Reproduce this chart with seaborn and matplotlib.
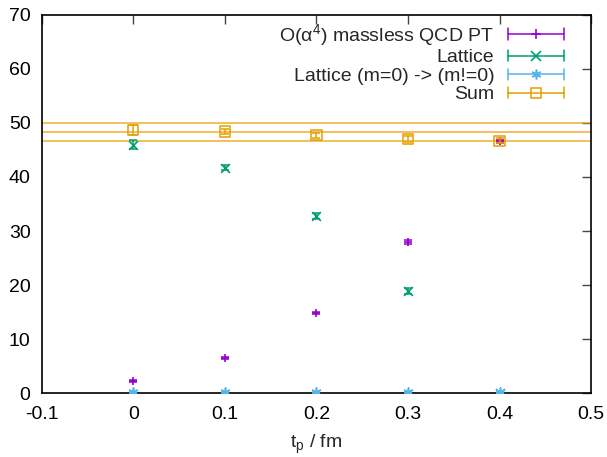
import numpy as np
import pandas as pd
import matplotlib
matplotlib.use("Agg")
import matplotlib.pyplot as plt
import seaborn as sns
from matplotlib.legend_handler import HandlerBase
from matplotlib.lines import Line2D

# ---- data ----
tp = [0.0, 0.1, 0.2, 0.3, 0.4]
pt_val = [2.3, 6.5, 14.8, 28.0, 46.6]
pt_err = [0.2, 0.2, 0.2, 0.4, 0.3]
lat_val = [46.0, 41.7, 32.8, 18.9, 0.0]
lat_err = [0.8, 0.5, 0.6, 0.5, 0.1]
corr_val = [0.15, 0.15, 0.15, 0.2, 0.2]
corr_err = [0.1, 0.1, 0.1, 0.1, 0.1]
sum_val = [48.7, 48.4, 47.7, 47.0, 46.7]
sum_err = [1.0, 0.5, 0.5, 0.5, 0.5]
band_center = 48.37
band_err = 1.65

labels = ["O(α$^\\mathregular{4}$) massless QCD PT", "Lattice",
          "Lattice (m=0) -> (m!=0)", "Sum"]
colors = ["#9400d3", "#009e73", "#56b4e9", "#e69f00"]
markers = ["+", "x", (6, 2, 0), "s"]

sns.set_style("white")
plt.rcParams['font.family'] = ['Liberation Sans', 'DejaVu Sans']
plt.rcParams['mathtext.fontset'] = 'custom'
plt.rcParams['mathtext.rm'] = 'Liberation Sans'
plt.rcParams['mathtext.it'] = 'Liberation Sans:italic'

FS = 14
fig = plt.figure(figsize=(6.07, 4.57), dpi=100)
ax = fig.add_axes([0.0687, 0.1394, 0.9053, 0.8284])

series = [(pt_val, pt_err), (lat_val, lat_err), (corr_val, corr_err), (sum_val, sum_err)]

# Sum band lines
for v in [band_center + band_err, band_center, band_center - band_err]:
    ax.axhline(v, color=colors[3], lw=1.2, alpha=0.75, zorder=1)

frames = []
for lab, (v, e) in zip(labels, series):
    frames.append(pd.DataFrame({"tp": tp, "val": v, "err": e, "series": lab}))
df = pd.concat(frames, ignore_index=True)

for i, lab in enumerate(labels):
    d = df[df["series"] == lab]
    ax.errorbar(d["tp"], d["val"], yerr=d["err"], fmt="none",
                ecolor=colors[i], elinewidth=1.1, capsize=3, capthick=1.1, zorder=2 + i)
    if markers[i] == "s":
        ax.scatter(d["tp"], d["val"], marker="s", s=55, facecolors="none",
                   edgecolors=colors[i], linewidths=1.1, zorder=3 + i)
    else:
        sns.scatterplot(data=d, x="tp", y="val", marker=markers[i], color=colors[i],
                        s=40, linewidth=1.2, ax=ax, legend=False, zorder=3 + i)

ax.set_xlim(-0.1, 0.5)
ax.set_ylim(0, 70)
ax.set_xticks([-0.1, 0, 0.1, 0.2, 0.3, 0.4, 0.5])
ax.set_xticklabels(["-0.1", "0", "0.1", "0.2", "0.3", "0.4", "0.5"])
ax.set_yticks(np.arange(0, 71, 10))
ax.tick_params(direction="in", length=6.5, width=1, top=True, right=True,
               labelsize=FS, colors="#444444", labelcolor="black")
ax.tick_params(axis="x", pad=9)
ax.tick_params(axis="y", pad=8)
for s in ax.spines.values():
    s.set_color("black")
    s.set_linewidth(1.2)
ax.set_xlabel(r"t$_\mathregular{p}$ / fm", fontsize=FS, labelpad=7)
ax.set_ylabel("")


class ErrHandler(HandlerBase):
    def __init__(self, color, marker):
        super().__init__()
        self.color = color
        self.marker = marker

    def create_artists(self, legend, orig_handle, xdescent, ydescent, width, height, fontsize, trans):
        y = height / 2 - ydescent
        x0, x1 = -xdescent, -xdescent + width
        arts = [Line2D([x0, x1], [y, y], color=self.color, lw=1.1),
                Line2D([x0, x0], [y - 4, y + 4], color=self.color, lw=1.1),
                Line2D([x1, x1], [y - 4, y + 4], color=self.color, lw=1.1)]
        if self.marker == "s":
            m = Line2D([(x0 + x1) / 2], [y], marker="s", markersize=7, markerfacecolor="none",
                       markeredgecolor=self.color, markeredgewidth=1.1, ls="none")
        else:
            m = Line2D([(x0 + x1) / 2], [y], marker=self.marker, markersize=7,
                       color=self.color, markeredgewidth=1.2, ls="none")
        arts.append(m)
        for a in arts:
            a.set_transform(trans)
        return arts


handles = [Line2D([], [], color=c) for c in colors]
hmap = {h: ErrHandler(c, m) for h, c, m in zip(handles, colors, markers)}
leg = ax.legend(handles, labels, handler_map=hmap, loc="upper right",
                bbox_to_anchor=(0.972, 1.012), frameon=False, markerfirst=False,
                fontsize=FS, handlelength=2.9, handletextpad=0.7, labelspacing=0.05,
                borderaxespad=0.2)
for t in leg.get_texts():
    t.set_ha("right")
leg._legend_box.align = "right"

fig.savefig("out.png", dpi=100)
